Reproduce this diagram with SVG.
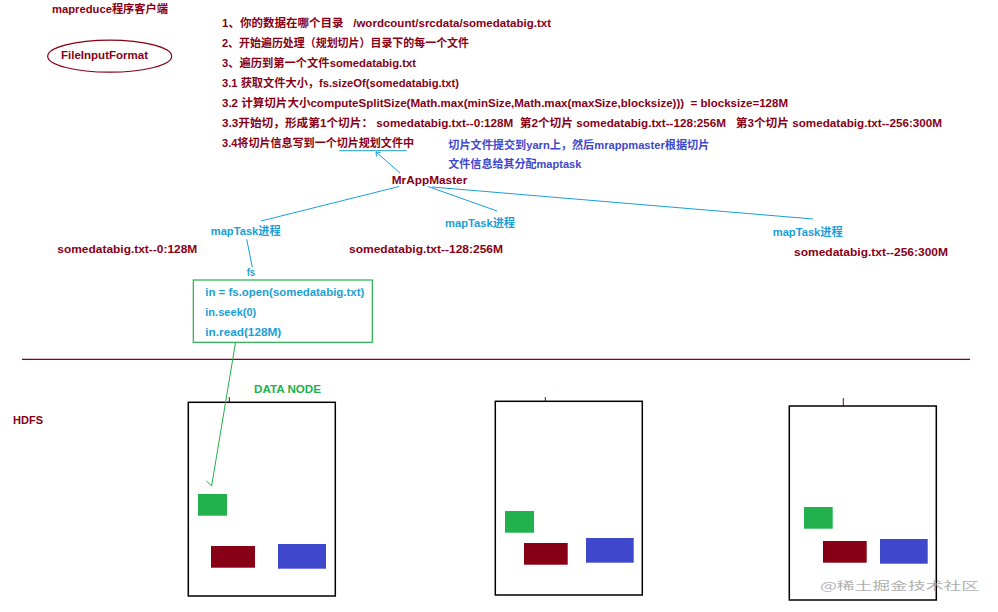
<svg xmlns="http://www.w3.org/2000/svg" width="998" height="612" viewBox="0 0 998 612">
<style>
text{font-family:"Liberation Sans","Noto Sans CJK SC",sans-serif;font-weight:bold;font-size:11.5px;white-space:pre}
.r{fill:#880015}
.c{fill:#1a9fd8}
.b{fill:#3f48cc}
.g{fill:#22b14c}
.ln{fill:none;stroke:#1a9fd8;stroke-width:1}
.box{fill:none;stroke:#000;stroke-width:1.5}
.tick{stroke:#880015;stroke-width:1}
</style>
<rect width="998" height="612" fill="#fff"/>
<g id="client">
<text class="r" x="52" y="13" textLength="116" lengthAdjust="spacingAndGlyphs">mapreduce程序客户端</text>
</g>
<g id="fileinputformat">
<ellipse cx="109.7" cy="56.2" rx="62" ry="16" fill="none" stroke="#880015" stroke-width="1.2"/>
<text class="r" x="61" y="58.5" textLength="87" lengthAdjust="spacingAndGlyphs">FileInputFormat</text>
</g>
<g id="steps">
<text class="r" x="222" y="27" textLength="329" lengthAdjust="spacingAndGlyphs" xml:space="preserve">1、你的数据在哪个目录   /wordcount/srcdata/somedatabig.txt</text>
<text class="r" x="222" y="47" textLength="247" lengthAdjust="spacingAndGlyphs">2、开始遍历处理（规划切片）目录下的每一个文件</text>
<text class="r" x="222" y="67" textLength="194" lengthAdjust="spacingAndGlyphs">3、遍历到第一个文件somedatabig.txt</text>
<text class="r" x="222" y="87.3" textLength="237" lengthAdjust="spacingAndGlyphs">3.1 获取文件大小，fs.sizeOf(somedatabig.txt)</text>
<text class="r" x="222" y="107.3" textLength="566" lengthAdjust="spacingAndGlyphs" xml:space="preserve">3.2 计算切片大小computeSplitSize(Math.max(minSize,Math.max(maxSize,blocksize)))  = blocksize=128M</text>
<text class="r" x="222" y="127.3" textLength="720" lengthAdjust="spacingAndGlyphs" xml:space="preserve">3.3开始切，形成第1个切片： somedatabig.txt--0:128M  第2个切片 somedatabig.txt--128:256M   第3个切片 somedatabig.txt--256:300M</text>
<text class="r" x="222" y="146.7" textLength="192" lengthAdjust="spacingAndGlyphs">3.4将切片信息写到一个切片规划文件中</text>
</g>
<g id="yarn-note">
<text class="b" x="448.3" y="149.3" textLength="261" lengthAdjust="spacingAndGlyphs">切片文件提交到yarn上，然后mrappmaster根据切片</text>
<text class="b" x="448.3" y="168.3" textLength="133" lengthAdjust="spacingAndGlyphs">文件信息给其分配maptask</text>
</g>
<g id="mrappmaster">
<text class="r" x="391.7" y="184" font-size="12" textLength="75.6" lengthAdjust="spacingAndGlyphs">MrAppMaster</text>
</g>
<g id="maptask1">
<text class="c" x="210.7" y="235.3" textLength="70" lengthAdjust="spacingAndGlyphs">mapTask进程</text>
<text class="r" x="57.3" y="253.3" textLength="140" lengthAdjust="spacingAndGlyphs">somedatabig.txt--0:128M</text>
</g>
<g id="maptask2">
<text class="c" x="445" y="227.3" textLength="70" lengthAdjust="spacingAndGlyphs">mapTask进程</text>
<text class="r" x="349" y="252.7" textLength="154" lengthAdjust="spacingAndGlyphs">somedatabig.txt--128:256M</text>
</g>
<g id="maptask3">
<text class="c" x="772.7" y="236" textLength="70" lengthAdjust="spacingAndGlyphs">mapTask进程</text>
<text class="r" x="794" y="256" textLength="154" lengthAdjust="spacingAndGlyphs">somedatabig.txt--256:300M</text>
</g>
<g id="fs">
<text class="c" x="246.7" y="276" textLength="8.5" lengthAdjust="spacingAndGlyphs">fs</text>
<rect x="193.3" y="280" width="179" height="62.3" fill="none" stroke="#22b14c" stroke-width="1.2"/>
<text class="c" x="205.3" y="295.5" textLength="159" lengthAdjust="spacingAndGlyphs">in = fs.open(somedatabig.txt)</text>
<text class="c" x="205.3" y="316" textLength="51" lengthAdjust="spacingAndGlyphs">in.seek(0)</text>
<text class="c" x="205.3" y="336" textLength="76" lengthAdjust="spacingAndGlyphs">in.read(128M)</text>
</g>
<g id="hdfs">
<line x1="22" y1="359.3" x2="970" y2="359.3" stroke="#880015" stroke-width="1.2"/>
<text class="r" x="13" y="424" textLength="30" lengthAdjust="spacingAndGlyphs">HDFS</text>
<text class="g" x="254" y="392.7" textLength="67" lengthAdjust="spacingAndGlyphs">DATA NODE</text>
</g>
<g id="datanode1">
<line class="tick" x1="229.3" y1="397" x2="229.3" y2="402"/>
<rect class="box" x="188.3" y="402.3" width="147" height="193.7"/>
<rect x="198" y="494" width="29" height="21.7" fill="#22b14c"/>
<rect x="211" y="546" width="44" height="21.7" fill="#880015"/>
<rect x="278" y="544" width="48" height="24.7" fill="#3f48cc"/>
</g>
<g id="datanode2">
<line class="tick" x1="545.3" y1="397" x2="545.3" y2="401"/>
<rect class="box" x="495.3" y="401.3" width="147" height="193.7"/>
<rect x="505" y="511" width="29" height="21.7" fill="#22b14c"/>
<rect x="524" y="543" width="43.7" height="21.7" fill="#880015"/>
<rect x="586" y="538" width="47.7" height="24.7" fill="#3f48cc"/>
</g>
<g id="datanode3">
<line class="tick" x1="843.3" y1="398" x2="843.3" y2="406"/>
<rect class="box" x="789.3" y="406" width="147" height="194"/>
<rect x="804" y="507" width="28.7" height="21.7" fill="#22b14c"/>
<rect x="823" y="541" width="43.7" height="21.7" fill="#880015"/>
<rect x="880" y="539" width="47.7" height="24.7" fill="#3f48cc"/>
</g>
<g id="connectors">
<line class="ln" x1="339.3" y1="150.7" x2="406.7" y2="150.7"/>
<line class="ln" x1="400" y1="173" x2="376" y2="152"/>
<polyline class="ln" points="376.5,156.5 376,152 380.5,152.5"/>
<line class="ln" x1="399" y1="186.5" x2="261" y2="221"/>
<line class="ln" x1="428" y1="186.5" x2="497" y2="211"/>
<line class="ln" x1="432" y1="187" x2="813" y2="219"/>
<line class="ln" x1="246.7" y1="239.3" x2="252.3" y2="267.3"/>
<line x1="235.6" y1="342" x2="211.6" y2="486" stroke="#22b14c" stroke-width="1"/>
<line x1="206.5" y1="481" x2="211.6" y2="486" stroke="#22b14c" stroke-width="1"/>
</g>
<text x="820" y="590" font-size="18" style="font-weight:normal;font-family:'Noto Sans CJK SC',sans-serif" fill="#9a9a9a" fill-opacity="0.8" textLength="159" lengthAdjust="spacingAndGlyphs">@稀土掘金技术社区</text>
</svg>
